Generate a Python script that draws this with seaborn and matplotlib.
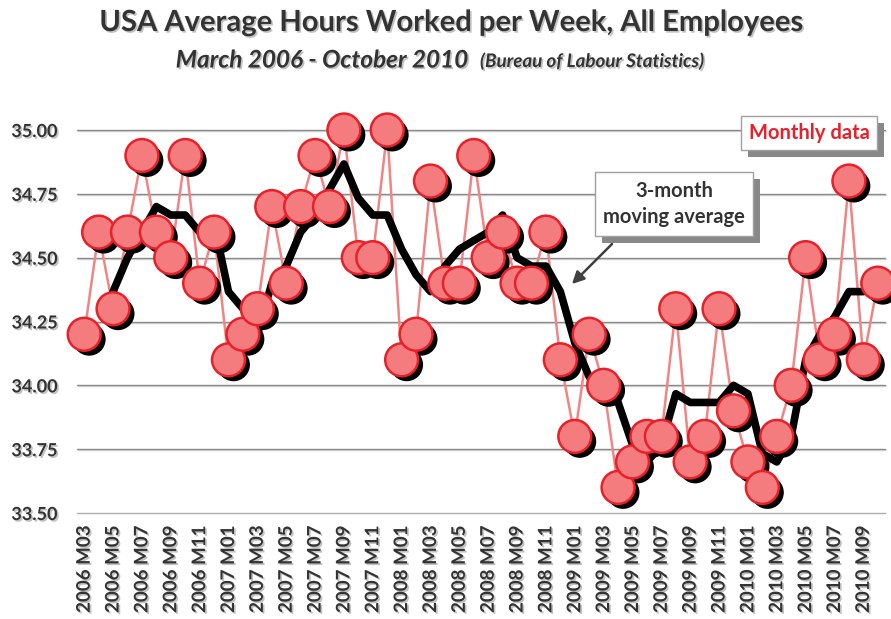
import numpy as np
import pandas as pd
import matplotlib
matplotlib.use("Agg")
import matplotlib.pyplot as plt
import matplotlib.patheffects as pe
from matplotlib.patches import Rectangle
import seaborn as sns

# ---------------- data ----------------
years = [2006] * 10 + [2007] * 12 + [2008] * 12 + [2009] * 12 + [2010] * 10
month_nums = list(range(3, 13)) + list(range(1, 13)) * 3 + list(range(1, 11))
months = [f"{y} M{m:02d}" for y, m in zip(years, month_nums)]

monthly = [34.2, 34.6, 34.3, 34.6, 34.9, 34.6, 34.5, 34.9, 34.4, 34.6,
           34.1, 34.2, 34.3, 34.7, 34.4, 34.7, 34.9, 34.7, 35.0, 34.5,
           34.5, 35.0, 34.1, 34.2, 34.8, 34.4, 34.4, 34.9, 34.5, 34.6,
           34.4, 34.4, 34.6, 34.1, 33.8, 34.2, 34.0, 33.6, 33.7, 33.8,
           33.8, 34.3, 33.7, 33.8, 34.3, 33.9, 33.7, 33.6, 33.8, 34.0,
           34.5, 34.1, 34.2, 34.8, 34.1, 34.4]

# 3-month trailing moving average (starts with the third month)
moving_avg = [np.nan, np.nan,
              34.367, 34.500, 34.600, 34.700, 34.667, 34.667, 34.600, 34.633,
              34.367, 34.300, 34.200, 34.400, 34.467, 34.600, 34.667, 34.767,
              34.867, 34.733, 34.667, 34.667, 34.533, 34.433, 34.367, 34.467,
              34.533, 34.567, 34.600, 34.667, 34.500, 34.467, 34.467, 34.367,
              34.167, 34.033, 34.000, 33.933, 33.767, 33.700, 33.767, 33.967,
              33.933, 33.933, 33.933, 34.000, 33.967, 33.733, 33.700, 33.800,
              34.100, 34.200, 34.267, 34.367, 34.367, 34.433]

y_ticks = [33.50, 33.75, 34.00, 34.25, 34.50, 34.75, 35.00]

df = pd.DataFrame({"pos": np.arange(len(months)), "month": months,
                   "monthly": monthly, "ma": moving_avg})

# ---------------- style ----------------
sns.set_theme(style="white")
plt.rcParams["font.family"] = ["Lato", "DejaVu Sans"]
TXT = "#333333"
shadow_txt = [pe.withSimplePatchShadow(offset=(1.2, -1.2), shadow_rgbFace="#999999", alpha=0.6)]

W, H = 891, 619
fig = plt.figure(figsize=(W / 100, H / 100), dpi=100)
fig.patch.set_facecolor("white")
L, R, T, B = 77, 885, 130, 513
ax = fig.add_axes([L / W, 1 - B / H, (R - L) / W, (B - T) / H])
ax.set_facecolor("white")

# grid lines
for yv in y_ticks[1:]:
    ax.axhline(yv, color="#8a8a8a", lw=1.0, zorder=1,
               path_effects=[pe.SimpleLineShadow(offset=(0.8, -0.8), shadow_color="#cccccc", alpha=0.8), pe.Normal()])

# thin pink line connecting monthly data
sns.lineplot(data=df, x="pos", y="monthly", ax=ax, color="#F08585", lw=1.8,
             zorder=2, sort=False)
# thick moving average line
sns.lineplot(data=df.dropna(), x="pos", y="ma", ax=ax, color="black", lw=5.5,
             zorder=3, sort=False)
for ln in ax.lines:
    ln.set_clip_on(False)

# circles with black drop shadow
sns.scatterplot(data=df, x="pos", y="monthly", ax=ax, s=560,
                color="#F47C7E", edgecolor="#E8202A", linewidth=1.8, zorder=4)
coll = ax.collections[-1]
coll.set_clip_on(False)
coll.set_path_effects([pe.SimplePatchShadow(offset=(3.6, -3.6), shadow_rgbFace="black", alpha=1.0),
                       pe.Normal()])

ax.set_xlim(-0.5, len(months) - 0.5)
ax.set_ylim(33.5, 35.0)
ax.set_xlabel("")
ax.set_ylabel("")

# y axis
ax.set_yticks(y_ticks)
ax.set_yticklabels([f"{v:.2f}" for v in y_ticks], fontsize=13, fontweight="bold", color=TXT)
ax.tick_params(axis="y", length=0, pad=14)
for t in ax.get_yticklabels():
    t.set_path_effects(shadow_txt)

# x axis: boundary ticks every month, labels every two months
ax.set_xticks(np.arange(-0.5, len(months), 1.0))
ax.set_xticklabels([])
ax.tick_params(axis="x", which="major", length=5, width=1, color="#b0b0b0", direction="out")
ax.set_xticks(np.arange(0, len(months), 2), minor=True)
ax.set_xticklabels(months[::2], minor=True, rotation=90, fontsize=13.5,
                   fontweight="bold", color=TXT)
ax.tick_params(axis="x", which="minor", length=0, pad=9)
for t in ax.get_xticklabels(minor=True):
    t.set_path_effects(shadow_txt)

for s in ["top", "right", "left"]:
    ax.spines[s].set_visible(False)
ax.spines["bottom"].set_color("#b0b0b0")
ax.spines["bottom"].set_linewidth(1.0)

# ---------------- titles ----------------
fig.text(451 / W, 1 - 23 / H, "USA Average Hours Worked per Week, All Employees",
         ha="center", va="center", fontsize=21, fontweight="bold", color=TXT,
         path_effects=shadow_txt)
fig.text(468 / W, 1 - 60 / H, "March 2006 - October 2010", ha="right", va="center",
         fontsize=17.5, fontweight="bold", style="italic", color=TXT, path_effects=shadow_txt)
fig.text(480 / W, 1 - 61 / H, "(Bureau of Labour Statistics)", ha="left", va="center",
         fontsize=13.5, fontweight="bold", style="italic", color=TXT, path_effects=shadow_txt)

# ---------------- annotation boxes ----------------
def box(x0, y0, x1, y1):
    sh = Rectangle((x0 / W + 7 / W, 1 - (y1 + 7) / H), (x1 - x0) / W, (y1 - y0) / H,
                   transform=fig.transFigure, facecolor="#888888", edgecolor="none", zorder=5)
    bx = Rectangle((x0 / W, 1 - y1 / H), (x1 - x0) / W, (y1 - y0) / H,
                   transform=fig.transFigure, facecolor="white", edgecolor="#a0a0a0",
                   lw=1.0, zorder=6)
    fig.add_artist(sh)
    fig.add_artist(bx)

box(741, 116, 877, 150)
fig.text(809 / W, 1 - 133 / H, "Monthly data", ha="center", va="center", fontsize=14.5,
         fontweight="bold", color="#E8202A", zorder=7)

box(595, 172, 753, 236)
fig.text(674 / W, 1 - 204 / H, "3-month\nmoving average", ha="center", va="center",
         fontsize=14.5, fontweight="bold", color=TXT, linespacing=1.35, zorder=7)

arrow = matplotlib.patches.FancyArrowPatch((614 / W, 1 - 242 / H), (570 / W, 1 - 286 / H),
                                           transform=fig.transFigure, arrowstyle="-|>",
                                           mutation_scale=18, color="#404040", lw=1.8, zorder=7)
fig.add_artist(arrow)

fig.savefig("out.png", dpi=100, facecolor="white")
